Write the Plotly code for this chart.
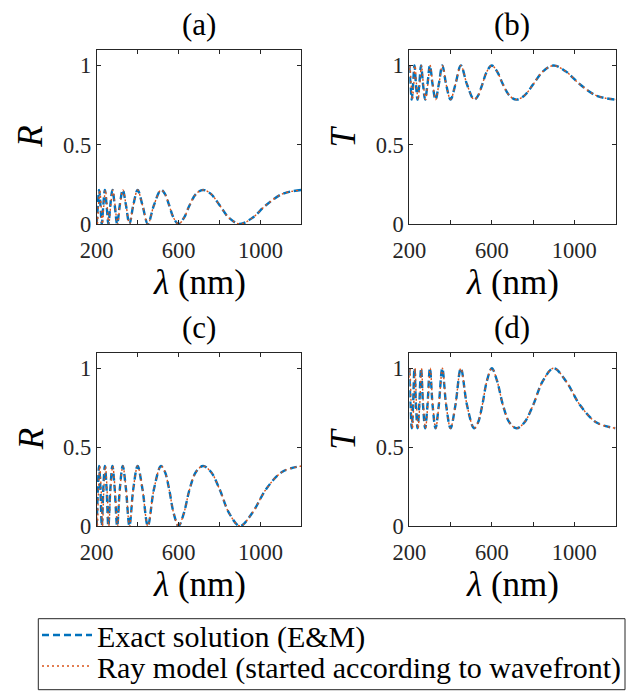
import plotly.graph_objects as go

# ---------------- data ----------------
# wavelength samples (nm) for the exact solution
lam_exact = [200.0, 205.7, 211.8, 218.2, 225.0, 232.3, 240.0, 248.3, 257.1, 266.7,
             276.9, 288.0, 300.0, 313.0, 327.3, 342.9, 360.0, 378.9, 400.0, 423.5,
             450.0, 480.0, 514.3, 533.3, 553.8, 576.0, 600.0, 626.1, 654.5, 685.7,
             720.0, 757.9, 800.0, 847.1, 900.0, 960.0, 1028.6, 1107.7, 1200.0]

# wavelength samples (nm) for the ray model (slightly shifted at short wavelengths)
lam_ray = [200.0, 203.0, 209.0, 215.0, 221.5, 228.0, 235.0, 242.5, 250.5, 259.0,
           268.5, 278.5, 289.5, 301.5, 314.0, 328.0, 343.5, 360.5, 379.0, 400.0,
           423.5, 450.0, 480.0, 514.3, 533.3, 553.8, 576.0, 600.0, 626.1, 654.5,
           685.7, 720.0, 757.9, 800.0, 847.1, 900.0, 960.0, 1028.6, 1107.7, 1200.0]

# (a) reflectance
R_a_exact = [0.0, 0.12, 0.215, 0.12, 0.0, 0.12, 0.215, 0.12, 0.0, 0.12,
             0.215, 0.12, 0.0, 0.12, 0.215, 0.12, 0.0, 0.12, 0.215, 0.12,
             0.0, 0.12, 0.215, 0.19, 0.12, 0.038, 0.0, 0.038, 0.12, 0.19,
             0.215, 0.19, 0.12, 0.038, 0.0, 0.038, 0.12, 0.19, 0.215]
R_a_ray = [0.03, 0.0, 0.12, 0.215, 0.12, 0.0, 0.12, 0.215, 0.12, 0.0,
           0.12, 0.215, 0.12, 0.0, 0.12, 0.215, 0.12, 0.0, 0.12, 0.215,
           0.12, 0.0, 0.12, 0.215, 0.19, 0.12, 0.038, 0.0, 0.038, 0.12,
           0.19, 0.215, 0.19, 0.12, 0.038, 0.0, 0.038, 0.12, 0.19, 0.215]

# (b) transmittance
T_b_exact = [1.0, 0.88, 0.785, 0.88, 1.0, 0.88, 0.785, 0.88, 1.0, 0.88,
             0.785, 0.88, 1.0, 0.88, 0.785, 0.88, 1.0, 0.88, 0.785, 0.88,
             1.0, 0.88, 0.785, 0.81, 0.88, 0.962, 1.0, 0.962, 0.88, 0.81,
             0.785, 0.81, 0.88, 0.962, 1.0, 0.962, 0.88, 0.81, 0.785]
T_b_ray = [0.97, 1.0, 0.88, 0.785, 0.88, 1.0, 0.88, 0.785, 0.88, 1.0,
           0.88, 0.785, 0.88, 1.0, 0.88, 0.785, 0.88, 1.0, 0.88, 0.785,
           0.88, 1.0, 0.88, 0.785, 0.81, 0.88, 0.962, 1.0, 0.962, 0.88,
           0.81, 0.785, 0.81, 0.88, 0.962, 1.0, 0.962, 0.88, 0.81, 0.785]

# (c) reflectance
R_c_exact = [0.0, 0.235, 0.38, 0.235, 0.0, 0.235, 0.38, 0.235, 0.0, 0.235,
             0.38, 0.235, 0.0, 0.235, 0.38, 0.235, 0.0, 0.235, 0.38, 0.235,
             0.0, 0.235, 0.38, 0.344, 0.235, 0.082, 0.0, 0.082, 0.235, 0.344,
             0.38, 0.344, 0.235, 0.082, 0.0, 0.082, 0.235, 0.344, 0.38]
R_c_ray = [0.06, 0.0, 0.235, 0.38, 0.235, 0.0, 0.235, 0.38, 0.235, 0.0,
           0.235, 0.38, 0.235, 0.0, 0.235, 0.38, 0.235, 0.0, 0.235, 0.38,
           0.235, 0.0, 0.235, 0.38, 0.344, 0.235, 0.082, 0.0, 0.082, 0.235,
           0.344, 0.38, 0.344, 0.235, 0.082, 0.0, 0.082, 0.235, 0.344, 0.38]

# (d) transmittance
T_d_exact = [1.0, 0.765, 0.62, 0.765, 1.0, 0.765, 0.62, 0.765, 1.0, 0.765,
             0.62, 0.765, 1.0, 0.765, 0.62, 0.765, 1.0, 0.765, 0.62, 0.765,
             1.0, 0.765, 0.62, 0.656, 0.765, 0.918, 1.0, 0.918, 0.765, 0.656,
             0.62, 0.656, 0.765, 0.918, 1.0, 0.918, 0.765, 0.656, 0.62]
T_d_ray = [0.94, 1.0, 0.765, 0.62, 0.765, 1.0, 0.765, 0.62, 0.765, 1.0,
           0.765, 0.62, 0.765, 1.0, 0.765, 0.62, 0.765, 1.0, 0.765, 0.62,
           0.765, 1.0, 0.765, 0.62, 0.656, 0.765, 0.918, 1.0, 0.918, 0.765,
           0.656, 0.62, 0.656, 0.765, 0.918, 1.0, 0.918, 0.765, 0.656, 0.62]

x_tickvals = [200, 400, 600, 800, 1000, 1200]
x_ticktext = ["200", "", "600", "", "1000", ""]
y_tickvals = [0, 0.5, 1]
y_ticktext = ["0", "0.5", "1"]

panel_titles = ["(a)", "(b)", "(c)", "(d)"]
y_labels = ["R", "T", "R", "T"]
x_label = "<i>λ</i> (nm)"
name_exact = "Exact solution (E&amp;M)"
name_ray = "Ray model (started according to wavefront)"

# ---------------- layout geometry (window pixels) ----------------
WIN_W, WIN_H = 635, 691
OFF = 8                      # page body margin
W, H = WIN_W - OFF, WIN_H - OFF
BLUE = "#0072BD"
ORANGE = "#D95319"
AXC = "#262626"
FONT = "Liberation Serif, Times New Roman, serif"


def fx(p):
    return (p - OFF) / W


def fy(p):
    return 1 - (p - OFF) / H


cols = [(96.7, 301.3), (409.3, 615.5)]
rows = [(49.7, 224.0), (352.5, 526.0)]

fig = go.Figure()

series = [
    (R_a_exact, R_a_ray),
    (T_b_exact, T_b_ray),
    (R_c_exact, R_c_ray),
    (T_d_exact, T_d_ray),
]

for i, (ex, ry) in enumerate(series):
    k = "" if i == 0 else str(i + 1)
    fig.add_trace(go.Scatter(
        x=lam_exact, y=ex, mode="lines", name=name_exact,
        line=dict(color=BLUE, width=2.4, dash="7px,4px", shape="spline", smoothing=1.0),
        xaxis="x" + k, yaxis="y" + k, showlegend=(i == 0), legend="legend",
    ))
    fig.add_trace(go.Scatter(
        x=lam_ray, y=ry, mode="lines", name=name_ray,
        line=dict(color=ORANGE, width=1.4, dash="2px,3px", shape="spline", smoothing=1.0),
        xaxis="x" + k, yaxis="y" + k, showlegend=(i == 0), legend="legend2",
    ))

annotations = []
for i in range(4):
    r, c = divmod(i, 2)
    x0, x1 = cols[c]
    y0, y1 = rows[r]
    k = "" if i == 0 else str(i + 1)
    common = dict(showline=True, linecolor=AXC, linewidth=1, mirror="ticks",
                  ticks="inside", ticklen=4, tickcolor=AXC, showgrid=False,
                  zeroline=False, automargin=False,
                  tickfont=dict(family=FONT, size=22.5, color=AXC))
    fig.layout["xaxis" + k] = dict(
        domain=[fx(x0), fx(x1)], anchor="y" + k, range=[200, 1200],
        tickmode="array", tickvals=x_tickvals, ticktext=x_ticktext,
        ticklabelstandoff=6, **common)
    fig.layout["yaxis" + k] = dict(
        domain=[fy(y1), fy(y0)], anchor="x" + k, range=[0, 1.1],
        tickmode="array", tickvals=y_tickvals, ticktext=y_ticktext, **common)
    xc = (x0 + x1) / 2
    yc = (y0 + y1) / 2
    annotations.append(dict(text=panel_titles[i], x=fx(xc), y=fy(y0 - 25.5),
                            xref="paper", yref="paper", showarrow=False,
                            xanchor="center", yanchor="middle",
                            font=dict(family=FONT, size=31, color="black")))
    annotations.append(dict(text=x_label, x=fx(xc), y=fy(y1 + 58),
                            xref="paper", yref="paper", showarrow=False,
                            xanchor="center", yanchor="middle",
                            font=dict(family=FONT, size=35, color="black")))
    annotations.append(dict(text="<i>" + y_labels[i] + "</i>", x=fx(x0 - 65.7), y=fy(yc),
                            xref="paper", yref="paper", showarrow=False, textangle=-90,
                            xanchor="center", yanchor="middle",
                            font=dict(family=FONT, size=35, color="black")))

leg_common = dict(xref="paper", yref="paper", xanchor="left", yanchor="middle",
                  bgcolor="rgba(0,0,0,0)", borderwidth=0,
                  font=dict(family=FONT, size=30, color="black"), itemwidth=50)

fig.update_layout(
    width=W, height=H,
    template="none",
    margin=dict(l=0, r=0, t=0, b=0, pad=0, autoexpand=False),
    paper_bgcolor="white", plot_bgcolor="white",
    annotations=annotations,
    legend=dict(x=fx(37), y=fy(635), **leg_common),
    legend2=dict(x=fx(37), y=fy(666), **leg_common),
    shapes=[dict(type="rect", xref="paper", yref="paper",
                 x0=fx(38.3), x1=fx(625), y0=fy(689.7), y1=fy(618.7),
                 line=dict(color=AXC, width=1), fillcolor="rgba(0,0,0,0)")],
)

fig.write_html("out.html")
